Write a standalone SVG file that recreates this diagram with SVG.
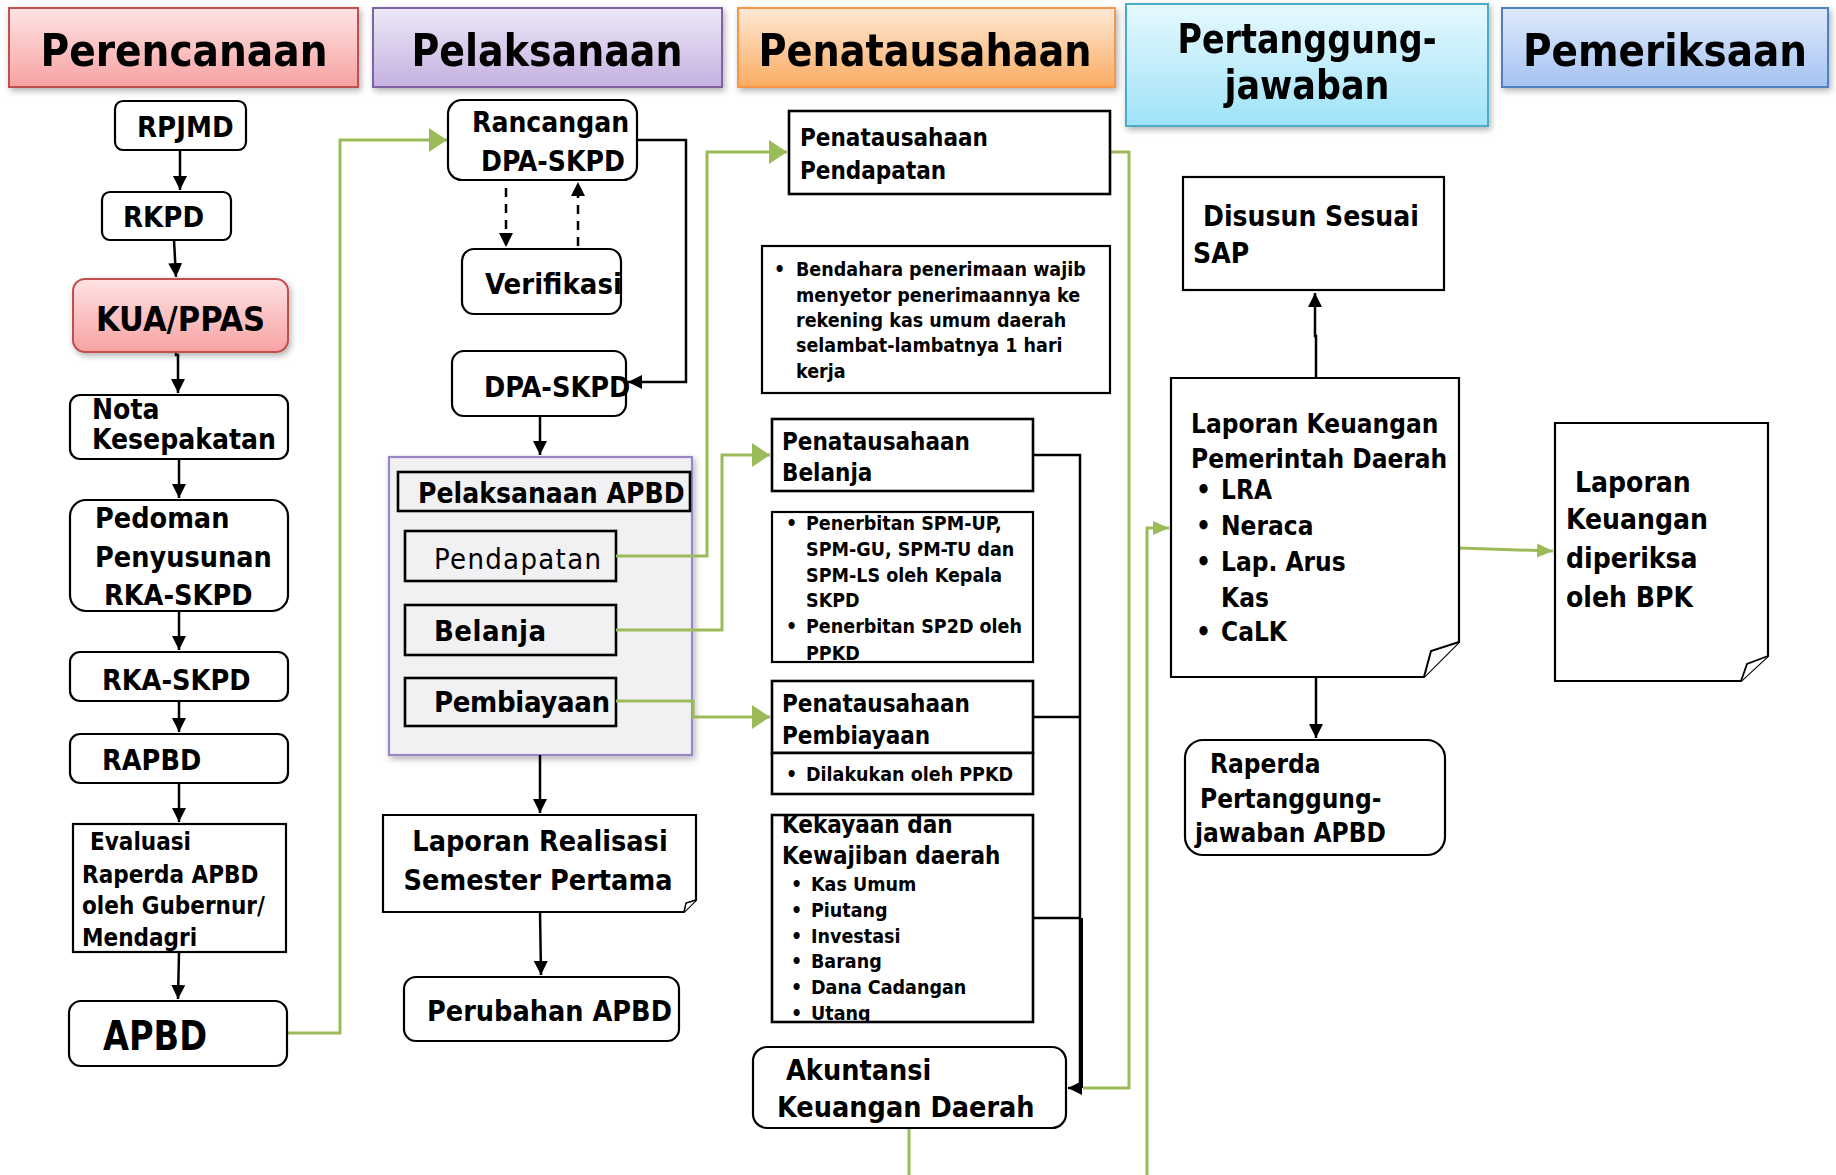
<svg xmlns="http://www.w3.org/2000/svg" width="1836" height="1175" viewBox="0 0 1836 1175">
<defs>
<style>
.t{font-family:"DejaVu Sans Condensed","DejaVu Sans",sans-serif;font-weight:bold;fill:#000}
.r{font-weight:normal}
.hd{font-size:45px;text-anchor:middle}
.hd2{font-size:41px;text-anchor:middle}
.s28{font-size:28px}
.s24{font-size:24px}
.s26{font-size:26px}
.s20{font-size:19.5px}
.box{fill:#fff;stroke:#000;stroke-width:2.2}
.sq{fill:#fff;stroke:#000;stroke-width:2.6}
.k{fill:none;stroke:#000;stroke-width:2.5}
.g{fill:none;stroke:#9bbb59;stroke-width:3}
.d{stroke-dasharray:9 7}
</style>
<linearGradient id="gRed" x1="0" y1="0" x2="0" y2="1"><stop offset="0" stop-color="#fee3e3"/><stop offset="1" stop-color="#f7a2a2"/></linearGradient>
<linearGradient id="gPur" x1="0" y1="0" x2="0" y2="1"><stop offset="0" stop-color="#eee8f7"/><stop offset="1" stop-color="#c4b1e1"/></linearGradient>
<linearGradient id="gOra" x1="0" y1="0" x2="0" y2="1"><stop offset="0" stop-color="#fee9d6"/><stop offset="1" stop-color="#fbab62"/></linearGradient>
<linearGradient id="gCya" x1="0" y1="0" x2="0" y2="1"><stop offset="0" stop-color="#e6f9fe"/><stop offset="1" stop-color="#9fe2f8"/></linearGradient>
<linearGradient id="gBlu" x1="0" y1="0" x2="0" y2="1"><stop offset="0" stop-color="#e0eafb"/><stop offset="1" stop-color="#a5c2f2"/></linearGradient>
<filter id="sh" x="-10%" y="-10%" width="125%" height="130%"><feDropShadow dx="2" dy="3" stdDeviation="3" flood-color="#000" flood-opacity="0.3"/></filter>
<marker id="ab" viewBox="0 0 14 14" refX="14" refY="7" markerWidth="14" markerHeight="14" markerUnits="userSpaceOnUse" orient="auto"><path d="M0,0 L14,7 L0,14 z" fill="#000"/></marker>
<marker id="ag" viewBox="0 0 18 24" refX="18" refY="12" markerWidth="18" markerHeight="24" markerUnits="userSpaceOnUse" orient="auto"><path d="M0,0 L18,12 L0,24 z" fill="#9bbb59"/></marker>
<marker id="ags" viewBox="0 0 16 14" refX="16" refY="7" markerWidth="16" markerHeight="14" markerUnits="userSpaceOnUse" orient="auto"><path d="M0,0 L16,7 L0,14 z" fill="#9bbb59"/></marker>
<clipPath id="cSpm"><rect x="772" y="512" width="261" height="150"/></clipPath>
<clipPath id="cKek"><rect x="772" y="815" width="261" height="207"/></clipPath>
</defs>
<rect width="1836" height="1175" fill="#fff"/>

<!-- headers -->
<g id="h-perencanaan" filter="url(#sh)">
<rect x="9" y="8" width="349" height="79" fill="url(#gRed)" stroke="#c0504d" stroke-width="2"/>
<text class="t hd" x="184" y="66" textLength="287" lengthAdjust="spacingAndGlyphs">Perencanaan</text>
</g>
<g id="h-pelaksanaan" filter="url(#sh)">
<rect x="373" y="8" width="349" height="79" fill="url(#gPur)" stroke="#8064a2" stroke-width="2"/>
<text class="t hd" x="547" y="66" textLength="271" lengthAdjust="spacingAndGlyphs">Pelaksanaan</text>
</g>
<g id="h-penatausahaan" filter="url(#sh)">
<rect x="738" y="8" width="377" height="79" fill="url(#gOra)" stroke="#f79646" stroke-width="2"/>
<text class="t hd" x="925" y="66" textLength="333" lengthAdjust="spacingAndGlyphs">Penatausahaan</text>
</g>
<g id="h-pertanggungjawaban" filter="url(#sh)">
<rect x="1126" y="4" width="362" height="122" fill="url(#gCya)" stroke="#4bacc6" stroke-width="2"/>
<text class="t hd2" x="1307" y="53" textLength="259" lengthAdjust="spacingAndGlyphs">Pertanggung-</text>
<text class="t hd2" x="1307" y="99" textLength="165" lengthAdjust="spacingAndGlyphs">jawaban</text>
</g>
<g id="h-pemeriksaan" filter="url(#sh)">
<rect x="1502" y="8" width="326" height="79" fill="url(#gBlu)" stroke="#4f81bd" stroke-width="2"/>
<text class="t hd" x="1665" y="66" textLength="284" lengthAdjust="spacingAndGlyphs">Pemeriksaan</text>
</g>

<!-- Pelaksanaan APBD container -->
<g id="pelaksanaan-apbd">
<rect x="389" y="457" width="303" height="298" fill="#f1f1f4" stroke="#9a86c6" stroke-width="2.2" filter="url(#sh)"/>
<rect x="398" y="472" width="292" height="39" class="sq" style="fill:#f1f1f4"/>
<text class="t s28" x="418" y="503">Pelaksanaan APBD</text>
</g>
<g id="pendapatan">
<rect x="405" y="531" width="211" height="50" class="sq" style="fill:#f1f1f4"/>
<text class="t r" x="434" y="569" font-size="29" textLength="167">Pendapatan</text>
</g>
<g id="belanja">
<rect x="405" y="605" width="211" height="50" class="sq" style="fill:#f1f1f4"/>
<text class="t" x="434" y="641" font-size="29" textLength="112">Belanja</text>
</g>
<g id="pembiayaan">
<rect x="405" y="678" width="211" height="48" class="sq" style="fill:#f1f1f4"/>
<text class="t" x="434" y="712" font-size="29" textLength="176">Pembiayaan</text>
</g>

<!-- connectors -->
<g id="connectors">
<path class="k" d="M180,150 V190" marker-end="url(#ab)"/>
<path class="k" d="M174,240 L176,277" marker-end="url(#ab)"/>
<path class="k" d="M176,329 V355 H178 V393" marker-end="url(#ab)"/>
<path class="k" d="M179,459 V498" marker-end="url(#ab)"/>
<path class="k" d="M179,611 V650" marker-end="url(#ab)"/>
<path class="k" d="M179,701 V732" marker-end="url(#ab)"/>
<path class="k" d="M179,783 V822" marker-end="url(#ab)"/>
<path class="k" d="M179,952 L178,999" marker-end="url(#ab)"/>
<path class="g" d="M287,1033 H340 V140 H447" marker-end="url(#ag)"/>
<path class="k d" d="M506,188 V247" marker-end="url(#ab)"/>
<path class="k d" d="M578,246 V182" marker-end="url(#ab)"/>
<path class="k" d="M637,140 H686 V382 H628" marker-end="url(#ab)"/>
<path class="k" d="M540,416 V455" marker-end="url(#ab)"/>
<path class="k" d="M540,755 V813" marker-end="url(#ab)"/>
<path class="k" d="M540,912 L541,975" marker-end="url(#ab)"/>
<path class="g" d="M616,556 H707 V152 H787" marker-end="url(#ag)"/>
<path class="g" d="M616,630 H722 V455 H770" marker-end="url(#ag)"/>
<path class="g" d="M616,701 H693 V717 H770" marker-end="url(#ag)"/>
<path class="g" d="M1110,152 H1129 V1088 H1083"/>
<path class="k" d="M1033,455 H1080 V1088 H1068" marker-end="url(#ab)"/>
<path class="k" d="M1033,717 H1080"/>
<path class="k" d="M1033,918 H1080"/>
<path class="k" d="M1081,918 V1088" style="stroke-width:4"/>
<path class="g" d="M909,1128 V1175"/>
<path class="g" d="M1147,1175 V528 H1169" marker-end="url(#ags)"/>
<path class="k" d="M1316,378 V336 H1315 V293" marker-end="url(#ab)"/>
<path class="k" d="M1316,677 V738" marker-end="url(#ab)"/>
<path class="g" d="M1459,548 L1553,551" marker-end="url(#ags)"/>
</g>

<!-- Perencanaan column -->
<g id="rpjmd">
<rect class="box" x="115" y="101" width="131" height="49" rx="8"/>
<text class="t" x="137" y="137" font-size="29">RPJMD</text>
</g>
<g id="rkpd">
<rect class="box" x="102" y="192" width="129" height="48" rx="8"/>
<text class="t" x="123" y="227" font-size="29">RKPD</text>
</g>
<g id="kua-ppas">
<rect x="73" y="279" width="215" height="73" rx="12" fill="url(#gRed)" stroke="#c0504d" stroke-width="2" filter="url(#sh)"/>
<text class="t" x="96" y="331" font-size="34">KUA/PPAS</text>
</g>
<g id="nota-kesepakatan">
<rect class="box" x="70" y="395" width="218" height="64" rx="10"/>
<text class="t s28" x="92" y="419">Nota</text>
<text class="t s28" x="92" y="449">Kesepakatan</text>
</g>
<g id="pedoman">
<rect class="box" x="70" y="500" width="218" height="111" rx="16"/>
<text class="t" font-size="28.5" x="95" y="528">Pedoman</text>
<text class="t" font-size="28.5" x="95" y="567">Penyusunan</text>
<text class="t" font-size="28.5" x="104" y="605">RKA-SKPD</text>
</g>
<g id="rka-skpd">
<rect class="box" x="70" y="652" width="218" height="49" rx="10"/>
<text class="t" font-size="28.5" x="102" y="690">RKA-SKPD</text>
</g>
<g id="rapbd">
<rect class="box" x="70" y="734" width="218" height="49" rx="10"/>
<text class="t" font-size="28.5" x="102" y="770">RAPBD</text>
</g>
<g id="evaluasi">
<rect class="box" x="73" y="824" width="213" height="128"/>
<text class="t" font-size="24" x="90" y="850">Evaluasi</text>
<text class="t" font-size="24" x="82" y="883">Raperda APBD</text>
<text class="t" font-size="24" x="82" y="914">oleh Gubernur/</text>
<text class="t" font-size="24" x="82" y="946">Mendagri</text>
</g>
<g id="apbd">
<rect class="box" x="69" y="1001" width="218" height="65" rx="12"/>
<text class="t" x="103" y="1050" font-size="40" textLength="104" lengthAdjust="spacingAndGlyphs">APBD</text>
</g>

<!-- Pelaksanaan column -->
<g id="rancangan-dpa">
<rect class="box" x="448" y="100" width="189" height="80" rx="14"/>
<text class="t s28" x="472" y="132">Rancangan</text>
<text class="t s28" x="481" y="171">DPA-SKPD</text>
</g>
<g id="verifikasi">
<rect class="box" x="462" y="249" width="159" height="65" rx="12"/>
<text class="t" font-size="29" x="485" y="294">Verifikasi</text>
</g>
<g id="dpa-skpd">
<rect class="box" x="452" y="351" width="174" height="65" rx="12"/>
<text class="t" font-size="28.5" x="484" y="397">DPA-SKPD</text>
</g>
<g id="laporan-realisasi">
<path class="box" d="M383,815 H696 V900 L684,912 H383 Z"/>
<path d="M696,900 L686,903 L684,912" fill="#fff" stroke="#000" stroke-width="1.5"/>
<text class="t" font-size="28.5" x="540" y="851" text-anchor="middle">Laporan Realisasi</text>
<text class="t" font-size="28.5" x="538" y="890" text-anchor="middle">Semester Pertama</text>
</g>
<g id="perubahan-apbd">
<rect class="box" x="404" y="977" width="275" height="64" rx="12"/>
<text class="t" font-size="28.5" x="427" y="1021">Perubahan APBD</text>
</g>

<!-- Penatausahaan column -->
<g id="pen-pendapatan">
<rect class="sq" x="789" y="111" width="321" height="83"/>
<text class="t s24" x="800" y="146">Penatausahaan</text>
<text class="t s24" x="800" y="179">Pendapatan</text>
</g>
<g id="bendahara">
<rect class="box" x="762" y="246" width="348" height="147"/>
<text class="t s20" x="774" y="276">•</text>
<text class="t s20" x="796" y="276">Bendahara penerimaan wajib</text>
<text class="t s20" x="796" y="302">menyetor penerimaannya ke</text>
<text class="t s20" x="796" y="327">rekening kas umum daerah</text>
<text class="t s20" x="796" y="352">selambat-lambatnya 1 hari</text>
<text class="t s20" x="796" y="378">kerja</text>
</g>
<g id="pen-belanja">
<rect class="sq" x="772" y="419" width="261" height="72"/>
<text class="t s24" x="782" y="450">Penatausahaan</text>
<text class="t s24" x="782" y="481">Belanja</text>
</g>
<g id="spm">
<g clip-path="url(#cSpm)">
<text class="t s20" x="786" y="530">•</text>
<text class="t s20" x="806" y="530">Penerbitan SPM-UP,</text>
<text class="t s20" x="806" y="556">SPM-GU, SPM-TU dan</text>
<text class="t s20" x="806" y="582">SPM-LS oleh Kepala</text>
<text class="t s20" x="806" y="607">SKPD</text>
<text class="t s20" x="786" y="633">•</text>
<text class="t s20" x="806" y="633">Penerbitan SP2D oleh</text>
<text class="t s20" x="806" y="660">PPKD</text>
</g>
<rect x="772" y="512" width="261" height="150" fill="none" stroke="#000" stroke-width="2.2"/>
</g>
<g id="pen-pembiayaan">
<rect class="sq" x="772" y="681" width="261" height="72"/>
<text class="t s24" x="782" y="712">Penatausahaan</text>
<text class="t s24" x="782" y="744">Pembiayaan</text>
</g>
<g id="dilakukan">
<rect class="sq" x="772" y="753" width="261" height="41"/>
<text class="t s20" x="786" y="781">•</text>
<text class="t s20" x="806" y="781">Dilakukan oleh PPKD</text>
</g>
<g id="kekayaan">
<g clip-path="url(#cKek)">
<text class="t s24" x="782" y="833">Kekayaan dan</text>
<text class="t s24" x="782" y="864">Kewajiban daerah</text>
<text class="t s20" x="791" y="891">•</text><text class="t s20" x="811" y="891">Kas Umum</text>
<text class="t s20" x="791" y="917">•</text><text class="t s20" x="811" y="917">Piutang</text>
<text class="t s20" x="791" y="943">•</text><text class="t s20" x="811" y="943">Investasi</text>
<text class="t s20" x="791" y="968">•</text><text class="t s20" x="811" y="968">Barang</text>
<text class="t s20" x="791" y="994">•</text><text class="t s20" x="811" y="994">Dana Cadangan</text>
<text class="t s20" x="791" y="1020">•</text><text class="t s20" x="811" y="1020">Utang</text>
</g>
<rect x="772" y="815" width="261" height="207" fill="none" stroke="#000" stroke-width="2.6"/>
</g>
<g id="akuntansi">
<rect class="box" x="753" y="1047" width="313" height="81" rx="14"/>
<text class="t" font-size="28.5" x="786" y="1080">Akuntansi</text>
<text class="t" font-size="28.5" x="777" y="1117">Keuangan Daerah</text>
</g>

<!-- Pertanggungjawaban column -->
<g id="disusun-sap">
<rect class="box" x="1183" y="177" width="261" height="113"/>
<text class="t s28" x="1203" y="226">Disusun Sesuai</text>
<text class="t s28" x="1193" y="263">SAP</text>
</g>
<g id="lkpd">
<path class="box" d="M1171,378 H1459 V642 L1424,677 H1171 Z"/>
<path d="M1459,642 L1431,651 L1424,677" fill="#fff" stroke="#000" stroke-width="2"/>
<text class="t s26" x="1191" y="433">Laporan Keuangan</text>
<text class="t s26" x="1191" y="468">Pemerintah Daerah</text>
<text class="t s26" x="1196" y="499">•</text><text class="t s26" x="1221" y="499">LRA</text>
<text class="t s26" x="1196" y="535">•</text><text class="t s26" x="1221" y="535">Neraca</text>
<text class="t s26" x="1196" y="571">•</text><text class="t s26" x="1221" y="571">Lap. Arus</text>
<text class="t s26" x="1221" y="607">Kas</text>
<text class="t s26" x="1196" y="641">•</text><text class="t s26" x="1221" y="641">CaLK</text>
</g>
<g id="raperda-pj">
<rect class="box" x="1185" y="740" width="260" height="115" rx="18"/>
<text class="t s26" x="1210" y="773">Raperda</text>
<text class="t s26" x="1200" y="808">Pertanggung-</text>
<text class="t s26" x="1195" y="842">jawaban APBD</text>
</g>

<!-- Pemeriksaan column -->
<g id="lk-bpk">
<path class="box" d="M1555,423 H1768 V656 L1741,681 H1555 Z"/>
<path d="M1768,656 L1747,664 L1741,681" fill="#fff" stroke="#000" stroke-width="1.8"/>
<text class="t s28" x="1575" y="492">Laporan</text>
<text class="t s28" x="1566" y="529">Keuangan</text>
<text class="t s28" x="1566" y="568">diperiksa</text>
<text class="t s28" x="1566" y="607">oleh BPK</text>
</g>
</svg>
